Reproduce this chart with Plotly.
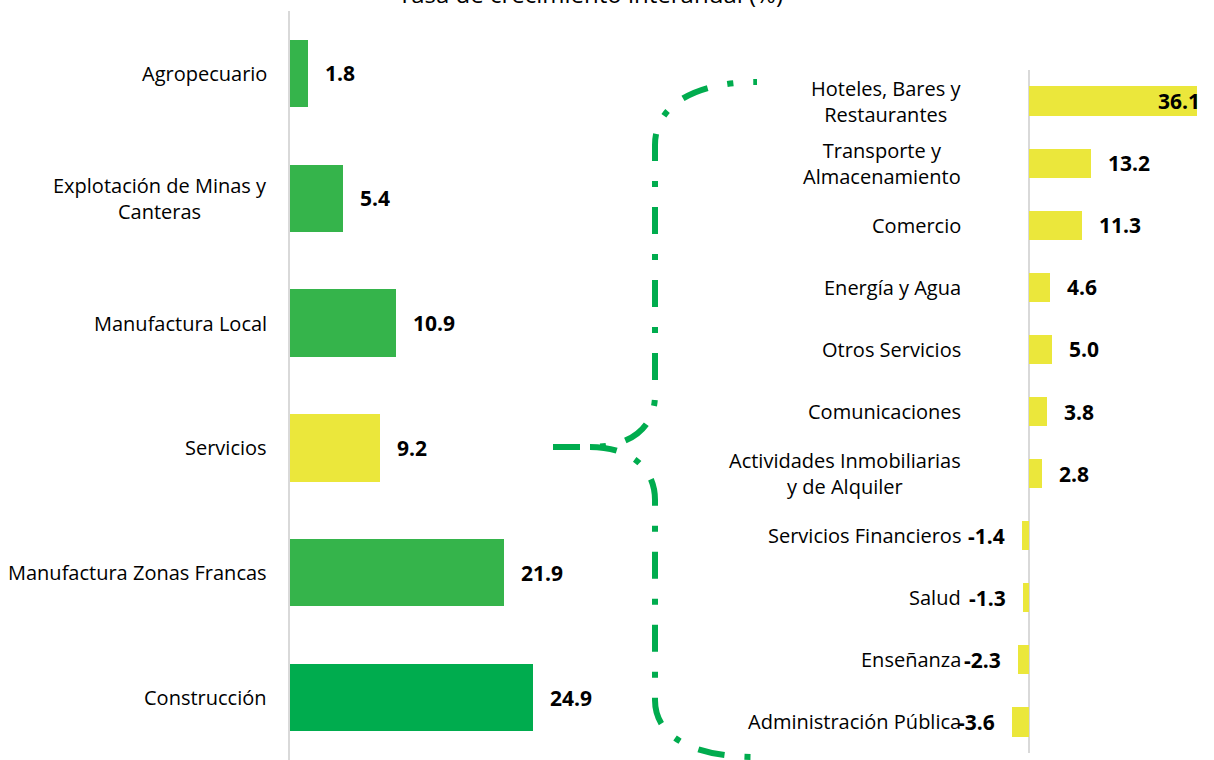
import plotly.graph_objects as go

# ---- data ----
left_categories = ["Agropecuario", "Explotación de Minas y<br>Canteras", "Manufactura Local",
                   "Servicios", "Manufactura Zonas Francas", "Construcción"]
left_values = [1.8, 5.4, 10.9, 9.2, 21.9, 24.9]
left_colors = ["#35B44B", "#35B44B", "#35B44B", "#EBE73B", "#35B44B", "#00AC4E"]

right_categories = ["Hoteles, Bares y<br>Restaurantes", "Transporte y<br>Almacenamiento", "Comercio",
                    "Energía y Agua", "Otros Servicios", "Comunicaciones",
                    "Actividades Inmobiliarias<br>y de Alquiler", "Servicios Financieros", "Salud",
                    "Enseñanza", "Administración Pública"]
right_values = [36.1, 13.2, 11.3, 4.6, 5.0, 3.8, 2.8, -1.4, -1.3, -2.3, -3.6]
right_color = "#EBE73B"

title_text = "Tasa de crecimiento interanual (%)"

# ---- geometry (pixels) ----
W, H = 1214, 760
FONT = "Open Sans"
L_AX, L_RIGHT, L_SCALE = 290, 760, 9.75
L_TOP, L_BOT = 11, 760
R_LEFT, R_AX, R_RIGHT, R_SCALE = 1005, 1029, 1200, 4.66
R_TOP, R_BOT = 70, 753

fig = go.Figure()
fig.add_trace(go.Bar(y=left_categories, x=left_values, orientation="h",
                     marker=dict(color=left_colors, line=dict(width=0)),
                     width=0.54, xaxis="x", yaxis="y", hoverinfo="x+y"))
fig.add_trace(go.Bar(y=right_categories, x=right_values, orientation="h",
                     marker=dict(color=right_color, line=dict(width=0)),
                     width=0.47, xaxis="x2", yaxis="y2", hoverinfo="x+y"))

l_range = [0, (L_RIGHT - L_AX) / L_SCALE]
r_range = [(R_LEFT - R_AX) / R_SCALE, (R_RIGHT - R_AX) / R_SCALE]

fig.update_layout(
    width=W, height=H, margin=dict(l=0, r=0, t=0, b=0),
    paper_bgcolor="white", plot_bgcolor="rgba(0,0,0,0)",
    showlegend=False, bargap=0,
    font=dict(family=FONT, color="#000000"),
    xaxis=dict(domain=[L_AX / W, L_RIGHT / W], range=l_range, visible=False, fixedrange=True),
    yaxis=dict(domain=[(H - L_BOT) / H, (H - L_TOP) / H], autorange="reversed",
               showticklabels=False, ticks="", showgrid=False, zeroline=False,
               showline=True, linecolor="#D9D9D9", linewidth=2, anchor="x"),
    xaxis2=dict(domain=[R_LEFT / W, R_RIGHT / W], range=r_range, showticklabels=False,
                ticks="", showgrid=False, zeroline=True, zerolinecolor="#D9D9D9",
                zerolinewidth=2, showline=False, anchor="y2"),
    yaxis2=dict(domain=[(H - R_BOT) / H, (H - R_TOP) / H], autorange="reversed",
                showticklabels=False, ticks="", showgrid=False, zeroline=False,
                showline=False, anchor="x2"),
)

ann = []
CAT_SIZE = 20
VAL_SIZE = 21
for c, v in zip(left_categories, left_values):
    ann.append(dict(xref="x", yref="y", x=0, y=c, text=c, showarrow=False, xanchor="right",
                    xshift=-21, align="center", font=dict(size=CAT_SIZE, family=FONT)))
    ann.append(dict(xref="x", yref="y", x=v, y=c, text=f"<b>{v:.1f}</b>", showarrow=False,
                    xanchor="left", xshift=15, font=dict(size=VAL_SIZE, family=FONT)))
for c, v in zip(right_categories, right_values):
    ann.append(dict(xref="x2", yref="y2", x=0, y=c, text=c, showarrow=False, xanchor="right",
                    xshift=-(R_AX - 963), align="center", font=dict(size=CAT_SIZE, family=FONT)))
    if v >= 0:
        if v + 11 > r_range[1]:
            ann.append(dict(xref="x2", yref="y2", x=r_range[1], y=c, text=f"<b>{v:.1f}</b>",
                            showarrow=False, xanchor="right", xshift=2,
                            font=dict(size=VAL_SIZE, family=FONT)))
        else:
            ann.append(dict(xref="x2", yref="y2", x=v, y=c, text=f"<b>{v:.1f}</b>",
                            showarrow=False, xanchor="left", xshift=15,
                            font=dict(size=VAL_SIZE, family=FONT)))
    else:
        ann.append(dict(xref="x2", yref="y2", x=v, y=c, text=f"<b>{v:.1f}</b>", showarrow=False,
                        xanchor="right", xshift=-15, font=dict(size=VAL_SIZE, family=FONT)))

ann.append(dict(xref="paper", yref="paper", x=590 / W, y=1, text=title_text, showarrow=False,
                xanchor="center", yanchor="bottom", yshift=-12, font=dict(size=24, family=FONT)))
fig.update_layout(annotations=ann)

# ---- curly bracket (decoration) ----
def px(x, y):
    return f"{x / W:.5f},{1 - y / H:.5f}"

tip_y, arm_x, mid_x, top_y, bot_y = 447, 757, 655, 82, 757
path = ("M " + px(553, tip_y) + " L " + px(590, tip_y)
        + " C " + px(630, tip_y) + " " + px(mid_x, 428) + " " + px(mid_x, 395)
        + " L " + px(mid_x, 145)
        + " C " + px(mid_x, 105) + " " + px(695, top_y) + " " + px(arm_x, top_y))
path2 = ("M " + px(590, tip_y)
         + " C " + px(630, tip_y) + " " + px(mid_x, 468) + " " + px(mid_x, 500)
         + " L " + px(mid_x, 700)
         + " C " + px(mid_x, 738) + " " + px(695, bot_y) + " " + px(arm_x, bot_y))
for p in (path, path2):
    fig.add_shape(type="path", path=p, xref="paper", yref="paper",
                  line=dict(color="#00AC4E", width=6, dash="27px,20px,6px,20px"))

fig.write_html("out.html", config={"displayModeBar": False},
               post_script="document.body.style.margin='0px';")
